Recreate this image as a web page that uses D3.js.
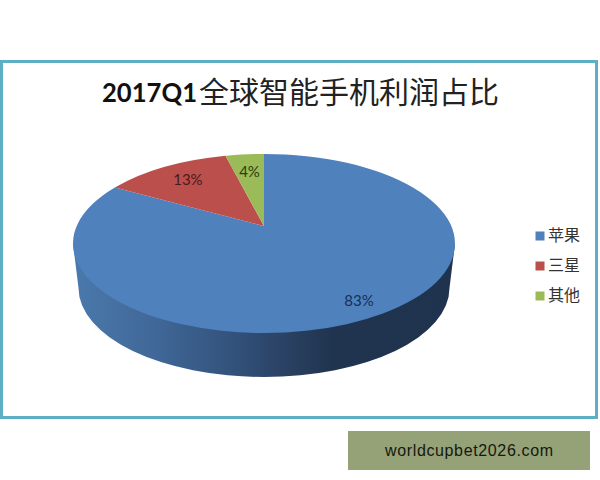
<!DOCTYPE html>
<html>
<head>
<meta charset="utf-8">
<script src="https://cdn.jsdelivr.net/npm/d3@7"></script>
<style>
  html, body { margin: 0; padding: 0; background: #fff; }
  svg { display: block; }
  text { font-family: Lato, "Noto Sans CJK SC", sans-serif; }
</style>
</head>
<body>
<div id="chart"></div>
<script>
var categories = ["苹果", "三星", "其他"];
var shares = [83, 13, 4];
var colors = ["#4f81bd", "#bb4f4c", "#9bbb59"];
var labelColors = ["#15305c", "#4a1a1a", "#2b3b10"];
var titleParts = ["2017Q1", "全球智能手机利润占比"];
var watermark = "worldcupbet2026.com";

var width = 600, height = 480;

var svg = d3.select("#chart").append("svg")
    .attr("width", width)
    .attr("height", height);

// frame
svg.append("rect")
    .attr("x", 1.5).attr("y", 61.5)
    .attr("width", 595).attr("height", 356)
    .attr("fill", "#fff")
    .attr("stroke", "#5eaec6")
    .attr("stroke-width", 3);

// title
svg.append("text")
    .attr("x", 102).attr("y", 102)
    .attr("font-size", 27).attr("font-weight", 700)
    .attr("textLength", 95).attr("lengthAdjust", "spacingAndGlyphs")
    .attr("fill", "#111")
    .text(titleParts[0]);
svg.append("text")
    .attr("x", 199).attr("y", 103)
    .attr("font-size", 30).attr("font-weight", 400)
    .attr("fill", "#222")
    .text(titleParts[1]);

// top face of the pie, the apex sits above the ellipse centre like excel's 3d view
var cx = 264, cy = 243.5, rx = 191, ry = 89.5;
var apexY = 226;

var sx = d3.scaleLinear().domain([-1, 1]).range([cx - rx, cx + rx]);
var sy = d3.scaleLinear().domain([-1, 1]).range([cy + ry, cy - ry]);
var apexN = sy.invert(apexY);

function rim(angle) {
    var s = Math.sin(angle), c = Math.cos(angle);
    var b = apexN * c;
    var t = -b + Math.sqrt(b * b + 1 - apexN * apexN);
    return [s * t, apexN + c * t];
}

function px(p) { return [sx(p[0]), sy(p[1])]; }

var pie = d3.pie().sort(null);
var slices = pie(shares);

function wedge(d) {
    var a = px(rim(d.startAngle));
    var b = px(rim(d.endAngle));
    var large = d.endAngle - d.startAngle > Math.PI ? 1 : 0;
    return "M" + cx + "," + apexY +
        "L" + a[0] + "," + a[1] +
        "A" + rx + "," + ry + " 0 " + large + " 1 " + b[0] + "," + b[1] + "Z";
}

// side wall
var grad = svg.append("defs").append("linearGradient")
    .attr("id", "wall")
    .attr("gradientUnits", "userSpaceOnUse")
    .attr("x1", cx - rx).attr("x2", cx + rx)
    .attr("y1", 0).attr("y2", 0);
[[0, "#4a79ab"], [0.2, "#41699a"], [0.4, "#34547e"], [0.55, "#2a4264"],
 [0.68, "#20344f"], [1, "#1f3350"]].forEach(function(s) {
    grad.append("stop").attr("offset", s[0]).attr("stop-color", s[1]);
});

var wallCy = 288, wallRx = 185.5, wallRy = 89;
svg.append("path")
    .attr("d", "M" + (cx - rx) + "," + cy +
        "L" + (cx - wallRx) + "," + wallCy +
        "A" + wallRx + "," + wallRy + " 0 0 0 " + (cx + wallRx) + "," + wallCy +
        "L" + (cx + rx) + "," + cy + "Z")
    .attr("fill", "url(#wall)");

svg.selectAll("path.slice")
    .data(slices)
    .join("path")
    .attr("class", "slice")
    .attr("d", wedge)
    .attr("fill", function(d, i) { return colors[i]; });

// data labels, how far along the slice's middle ray each one sits
var labelReach = [0.84, 0.775, 0.75];
svg.selectAll("text.pct")
    .data(slices)
    .join("text")
    .attr("class", "pct")
    .attr("text-anchor", "middle")
    .attr("font-size", 15)
    .attr("fill", function(d, i) { return labelColors[i]; })
    .attr("x", function(d, i) {
        var p = px(rim((d.startAngle + d.endAngle) / 2));
        return cx + (p[0] - cx) * labelReach[i];
    })
    .attr("y", function(d, i) {
        var p = px(rim((d.startAngle + d.endAngle) / 2));
        return apexY + (p[1] - apexY) * labelReach[i] + 5;
    })
    .text(function(d) { return d.value + "%"; });

// legend
var legendY = d3.scalePoint().domain(categories).range([236, 296]);
var legend = svg.selectAll("g.legend")
    .data(categories)
    .join("g")
    .attr("class", "legend")
    .attr("transform", function(d) { return "translate(0," + legendY(d) + ")"; });
legend.append("rect")
    .attr("x", 535.5).attr("y", -4.5)
    .attr("width", 9).attr("height", 9)
    .attr("fill", function(d, i) { return colors[i]; });
legend.append("text")
    .attr("x", 548).attr("y", 5)
    .attr("font-size", 16)
    .attr("fill", "#333")
    .text(function(d) { return d; });

// banner under the chart
svg.append("rect")
    .attr("x", 348).attr("y", 431)
    .attr("width", 242).attr("height", 39)
    .attr("fill", "#95a277");
svg.append("text")
    .attr("x", 469).attr("y", 456)
    .attr("text-anchor", "middle")
    .attr("font-size", 16)
    .attr("textLength", 168)
    .attr("fill", "#14180f")
    .style("font-family", "'Liberation Sans', sans-serif")
    .text(watermark);
</script>
</body>
</html>
